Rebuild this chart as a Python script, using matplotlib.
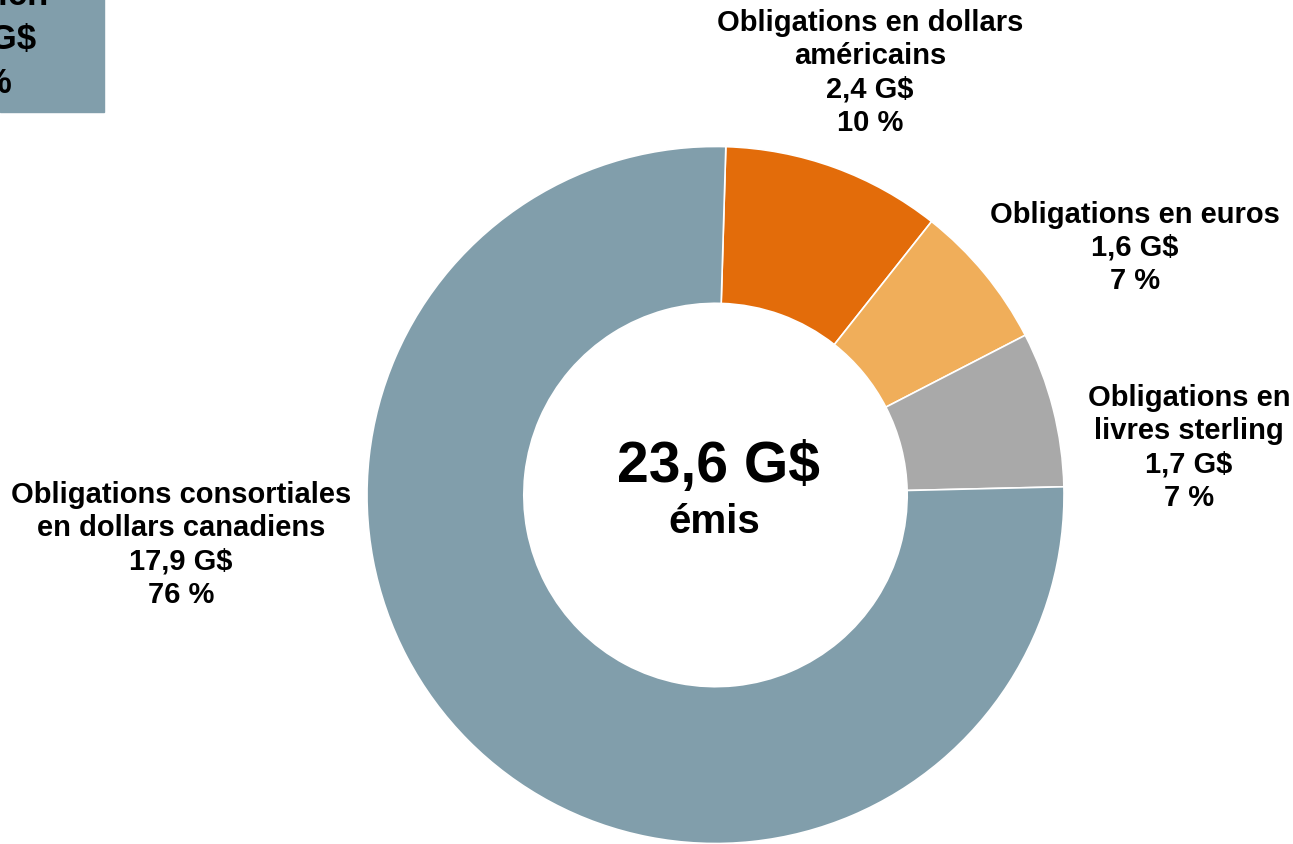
import matplotlib
matplotlib.use("Agg")
import matplotlib.pyplot as plt
from matplotlib.patches import Rectangle

plt.rcParams['font.family'] = ['Liberation Sans', 'DejaVu Sans']

# donnees
categories = ["Obligations en dollars\naméricains", "Obligations en euros",
              "Obligations en\nlivres sterling", "Obligations consortiales\nen dollars canadiens"]
montants = [2.4, 1.6, 1.7, 17.9]          # G$
pourcents = [10, 7, 7, 76]
couleurs = ["#E36C0A", "#F0AE5A", "#A9A9A9", "#819EAB"]
total = "23,6 G$"

W, H = 1293, 845
fig = plt.figure(figsize=(W / 100, H / 100), dpi=100)

# anneau: centre (715.5, 496) px, rayon 348.5 px
cx, cy, R = 715.5, 496, 348.5
ax = fig.add_axes([(cx - R) / W, (H - cy - R) / H, 2 * R / W, 2 * R / H])
ax.pie(montants, colors=couleurs, startangle=88.3, counterclock=False,
       wedgeprops=dict(width=0.45, edgecolor="white", linewidth=1.2))
ax.set_xlim(-1, 1)
ax.set_ylim(-1, 1)
ax.axis("off")


def px(x, y):
    return x / W, 1 - y / H


# etiquettes (position du centre en pixels)
positions = [(870, 73), (1135, 248), (1189, 448), (181, 545)]
for cat, m, p, (x, y) in zip(categories, montants, pourcents, positions):
    txt = f"{cat}\n{m:.1f}".replace(".", ",") + f" G$\n{p} %"
    fig.text(*px(x, y), txt, ha="center", va="center", fontsize=21,
             fontweight="bold", linespacing=1.24)

# texte central
fig.text(*px(718, 467), total, ha="center", va="center", fontsize=41, fontweight="bold")
fig.text(*px(714, 522), "émis", ha="center", va="center", fontsize=29, fontweight="bold")

# encadre coupe en haut a gauche
fig.patches.append(Rectangle((0, 1 - 113 / H), 104 / W, 113 / H,
                             transform=fig.transFigure, color="#819EAB", zorder=0))
for t, (x, y) in zip(["Obligations à Zurich", "0,0 G$", "0 %"],
                     [(48, 5), (36, 48), (12, 93)]):
    fig.text(*px(x, y), t, ha="right", va="baseline", fontsize=25, fontweight="bold")

fig.savefig("out.png", dpi=100)
